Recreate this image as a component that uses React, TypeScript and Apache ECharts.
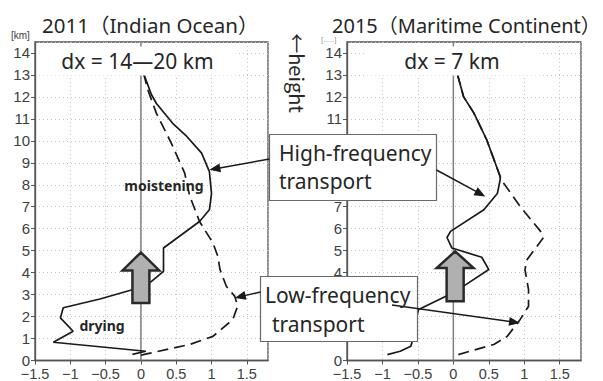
import React, { useEffect, useRef } from "react";
import * as echarts from "echarts";

// x: moistening tendency, y: height [km]
const leftHigh: number[][] = [
  [-0.12, 0.28], [0.07, 0.42], [-1.24, 0.83], [-0.96, 1.33], [-1.14, 1.94], [-1.1, 2.4],
  [-0.58, 2.8], [-0.11, 3.23], [0.15, 3.6], [0.32, 4.06], [0.32, 5.12], [0.83, 6.33],
  [0.97, 6.86], [1.0, 7.6], [0.97, 8.6], [0.86, 9.44], [0.65, 10.2], [0.45, 10.8],
  [0.22, 11.7], [0.15, 12.1], [0.04, 13.05],
];
const leftLow: number[][] = [
  [0.0, 0.24], [0.08, 0.3], [0.69, 0.73], [1.02, 1.1], [1.3, 1.86], [1.37, 2.47],
  [1.33, 2.92], [1.21, 3.38], [1.12, 4.14], [1.09, 4.74], [1.02, 5.35], [0.83, 6.33],
  [0.69, 7.5], [0.62, 8.53], [0.43, 9.9], [0.22, 11.25], [0.1, 12.3], [0.04, 13.05],
];
const rightHigh: number[][] = [
  [-0.93, 0.27], [-0.75, 0.42], [-0.6, 0.65], [-0.58, 0.88], [-0.55, 1.6], [-0.49, 2.32],
  [-0.09, 2.95], [0.16, 3.42], [0.5, 4.14], [0.4, 4.7], [-0.02, 5.12], [-0.09, 5.6],
  [-0.04, 5.88], [0.43, 6.86], [0.62, 7.6], [0.66, 8.23], [0.66, 8.38], [0.47, 10.05],
  [0.29, 11.26], [0.145, 12.0], [0.06, 13.0],
];
const rightLow: number[][] = [
  [0.07, 0.27], [0.57, 0.73], [0.76, 1.1], [0.94, 1.86], [1.06, 2.47], [1.06, 3.23],
  [1.01, 4.14], [1.04, 4.6], [1.18, 5.2], [1.27, 5.6], [1.23, 5.88], [0.94, 7.02],
  [0.71, 8.07], [0.66, 8.38], [0.47, 10.05], [0.29, 11.26], [0.145, 12.0], [0.06, 13.0],
];
const zeroLine: number[][] = [[0, 0], [0, 14.5]];

const titles = ["2011（Indian Ocean）", "2015（Maritime Continent）"];
const resolutions = ["dx = 14—20 km", "dx = 7 km"];
// height labels of the right panel that sit under the annotation boxes
const hiddenRightHeights = [1, 2, 3, 8, 9, 10];
// up-arrow: [centerX, bottomY, headBaseY, tipY]
const upArrows: number[][] = [
  [0.0, 2.62, 4.1, 4.92],
  [0.025, 2.7, 4.21, 4.97],
];

const FONT = "'Noto Sans', 'Noto Sans CJK JP', sans-serif";
const AXFONT = "'Liberation Sans', Arial, sans-serif";
const INK = "#1a1a1a";
const TXT = "#262626";

const fmt = (v: number) => {
  if (Math.abs(v * 2 - Math.round(v * 2)) > 1e-6) return "";
  if (Math.abs(v) < 1e-9) return "0";
  return v < 0 ? "\u2212" + String(Math.abs(v)) : String(v);
};

const mkX = (gridIndex: number) => ({
  type: "value",
  gridIndex,
  min: -1.5,
  max: 1.8,
  interval: 0.5,
  axisLine: { show: true, onZero: false, lineStyle: { color: "#555", width: 1.3 } },
  axisTick: { show: true, length: 4, lineStyle: { color: "#555" } },
  axisLabel: {
    showMaxLabel: false,
    margin: 7,
    fontSize: 14.5,
    lineHeight: 12,
    color: "#404040",
    fontFamily: AXFONT,
    formatter: fmt,
  },
  splitLine: { show: true, lineStyle: { color: "#c4c4c4", type: [1, 3], width: 1 } },
});

const mkY = (gridIndex: number, hidden: number[] = []) => ({
  type: "value",
  gridIndex,
  min: 0,
  max: 14.5,
  interval: 1,
  axisLine: { show: true, onZero: false, lineStyle: { color: "#555", width: 1.3 } },
  axisTick: { show: true, length: 4, lineStyle: { color: "#555" } },
  axisLabel: {
    showMaxLabel: false,
    margin: 5,
    fontSize: 15,
    lineHeight: 11,
    color: "#404040",
    fontFamily: AXFONT,
    formatter: (v: number) => (Number.isInteger(v) && hidden.indexOf(v) < 0 ? String(v) : ""),
  },
  splitLine: { show: true, lineStyle: { color: "#c4c4c4", type: [1, 3], width: 1 } },
});

const lineSeries = (data: number[][], idx: number, dashed: boolean, z = 3) => ({
  type: "line",
  xAxisIndex: idx,
  yAxisIndex: idx,
  data,
  symbol: "none",
  silent: true,
  z,
  lineStyle: { color: INK, width: 1.7, type: dashed ? [11, 6] : "solid" },
});

const zeroSeries = (idx: number) => ({
  type: "line",
  xAxisIndex: idx,
  yAxisIndex: idx,
  data: zeroLine,
  symbol: "none",
  silent: true,
  z: 2,
  lineStyle: { color: "#808080", width: 1.5 },
});

export default function App() {
  const ref = useRef<HTMLDivElement>(null);
  useEffect(() => {
    const chart = echarts.init(ref.current!, null, { renderer: "svg" });
    chart.setOption({
      animation: false,
      backgroundColor: "#fff",
      grid: [
        { left: 35, top: 42, width: 233, height: 319, show: true, borderColor: "#555", borderWidth: 1.3 },
        { left: 347, top: 42, width: 234, height: 319, show: true, borderColor: "#555", borderWidth: 1.3 },
      ],
      xAxis: [mkX(0), mkX(1)],
      yAxis: [mkY(0), mkY(1, hiddenRightHeights)],
      series: [
        zeroSeries(0),
        zeroSeries(1),
        lineSeries(leftLow, 0, true),
        lineSeries(leftHigh, 0, false, 4),
        lineSeries(rightLow, 1, true),
        lineSeries(rightHigh, 1, false, 4),
      ],
    });

    const px = (g: number, pt: number[]) => chart.convertToPixel({ gridIndex: g }, pt) as number[];

    const arrow = (s: number[], t: number[], z: number) => {
      const dx = t[0] - s[0];
      const dy = t[1] - s[1];
      const L = Math.hypot(dx, dy);
      const ux = dx / L;
      const uy = dy / L;
      const hl = 11;
      const hw = 4.5;
      const bx = t[0] - ux * hl;
      const by = t[1] - uy * hl;
      return [
        { type: "line", z, shape: { x1: s[0], y1: s[1], x2: bx + ux * 2, y2: by + uy * 2 }, style: { stroke: INK, lineWidth: 1.5 } },
        {
          type: "polygon",
          z,
          shape: { points: [[t[0], t[1]], [bx - uy * hw, by + ux * hw], [bx + uy * hw, by - ux * hw]] },
          style: { fill: INK },
        },
      ];
    };

    const blockArrow = (g: number, a: number[]) => {
      const [cx, y0, yb, yt] = a;
      const sw = 0.12;
      const hw = 0.26;
      const pts = [
        [cx - sw, y0], [cx + sw, y0], [cx + sw, yb], [cx + hw, yb], [cx, yt], [cx - hw, yb], [cx - sw, yb],
      ].map((p) => px(g, p));
      return {
        type: "polygon",
        z: 40,
        shape: { points: pts },
        style: { fill: "#b0b0b0", stroke: "#2a2a2a", lineWidth: 2.5, lineJoin: "miter" },
      };
    };

    const txt = (text: string, x: number, y: number, size: number, opts: any = {}) => ({
      type: "text",
      x,
      y,
      z: opts.z ?? 80,
      rotation: opts.rotation ?? 0,
      style: {
        text,
        fontSize: size,
        fontFamily: opts.fontFamily ?? FONT,
        fontWeight: opts.bold ? "bold" : "normal",
        fill: opts.fill ?? TXT,
        align: opts.align ?? "left",
        verticalAlign: "middle",
        ...(opts.lineHeight ? { lineHeight: opts.lineHeight } : {}),
        ...(opts.bg ? { backgroundColor: opts.bg, padding: opts.padding ?? [2, 10] } : {}),
      },
    });

    const elements: any[] = [
      txt(titles[0], 42, 25, 20.5),
      txt(titles[1], 332, 25, 20, { lineHeight: 20 }),
      txt("[km]", 11, 35, 10, { fontFamily: AXFONT, fill: "#404040" }),
      txt("[.....]", 321, 39.5, 8, { fontFamily: AXFONT, fill: "#9a9a9a", lineHeight: 6 }),
      txt(resolutions[0], 137.5, 61, 21, { align: "center", bg: "#fff", padding: [4, 22], z: 45 }),
      txt(resolutions[1], 452, 61, 21, { align: "center", bg: "#fff", padding: [4, 40], z: 45 }),
      txt("moistening", 164, 185, 14, { align: "center", bold: true }),
      txt("drying", 102, 325, 14, { align: "center", bold: true }),
      txt("←height", 297, 73, 20, { align: "center", rotation: -Math.PI / 2, fontFamily: "'Noto Sans CJK JP', 'Noto Sans', sans-serif" }),
      blockArrow(0, upArrows[0]),
      blockArrow(1, upArrows[1]),
      { type: "rect", z: 50, shape: { x: 269.5, y: 134.5, width: 167, height: 66 }, style: { fill: "#fff", stroke: "#6a6a6a", lineWidth: 1.2 } },
      { type: "rect", z: 50, shape: { x: 260.5, y: 276.5, width: 157, height: 65 }, style: { fill: "#fff", stroke: "#6a6a6a", lineWidth: 1.2 } },
      txt("High-frequency", 279, 152.5, 21),
      txt("transport", 279, 180.5, 21),
      txt("Low-frequency", 265, 295, 21),
      txt("transport", 272, 324, 21),
      ...arrow([269.5, 159], px(0, [0.97, 8.68]), 60),
      ...arrow([436.5, 170], px(1, [0.45, 7.47]), 60),
      ...arrow([260.5, 292], px(0, [1.33, 2.85]), 60),
      ...arrow([392, 305], px(1, [0.94, 1.71]), 60),
    ];
    chart.setOption({ graphic: { elements } });
    return () => chart.dispose();
  }, []);
  return <div ref={ref} style={{ position: "absolute", left: 0, top: 0, width: 603, height: 381 }} />;
}
